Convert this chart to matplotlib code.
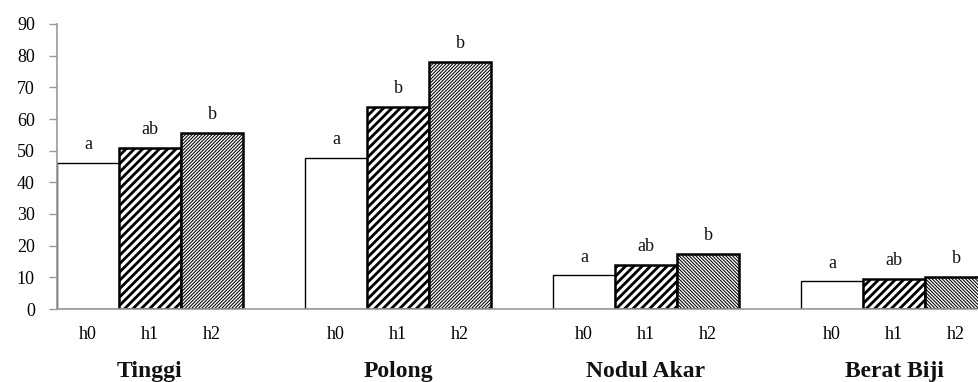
import matplotlib
matplotlib.use("Agg")
import matplotlib.pyplot as plt
import matplotlib.transforms as mtransforms

# ---- data ----
categories = ["Tinggi", "Polong", "Nodul Akar", "Berat Biji"]
treatments = ["h0", "h1", "h2"]
h0_values = [46.0, 47.6, 10.6, 8.7]
h1_values = [50.9, 63.8, 13.9, 9.6]
h2_values = [55.7, 78.0, 17.4, 10.2]
h0_letters = ["a", "a", "a", "a"]
h1_letters = ["ab", "b", "ab", "ab"]
h2_letters = ["b", "b", "b", "b"]
y_ticks = [0, 10, 20, 30, 40, 50, 60, 70, 80, 90]

plt.rcParams['font.family'] = ['Liberation Serif', 'DejaVu Serif']

W, H = 979, 382
fig = plt.figure(figsize=(W / 100, H / 100), dpi=100)
ax = fig.add_axes([57 / W, 73 / H, (W - 57) / W, (309 - 24) / H])

series = [h0_values, h1_values, h2_values]
letters = [h0_letters, h1_letters, h2_letters]
group_w = 4
centers = []
ticklabels = []
for gi in range(len(categories)):
    for j in range(3):
        left = gi * group_w + j
        val = series[j][gi]
        if j == 0:
            hatch, lw = None, 1.0
        elif j == 1:
            hatch, lw = '////', 1.8
        else:
            hatch = '/' * 10 if gi < 2 else '\\' * 10
            lw = 1.8
        b = ax.bar(left, val, width=1.0, align='edge', color='white',
                   edgecolor='black', linewidth=lw, hatch=hatch, zorder=2)[0]
        if hasattr(b, 'set_hatch_linewidth') and hatch:
            b.set_hatch_linewidth(2.0 if j == 1 else 0.75)
        ax.annotate(letters[j][gi], (left + 0.5, val), xytext=(0, 10),
                    textcoords='offset points', ha='center', va='baseline',
                    fontsize=13, color='#111111')
        centers.append(left + 0.5)
        ticklabels.append(treatments[j])

ax.set_xlim(0, (W - 57) / 62)
ax.set_ylim(0, 90)
ax.set_yticks(y_ticks)
ax.tick_params(axis='y', length=6, width=1, color='#999999', pad=10,
               labelsize=13)
ax.set_xticks(centers)
ax.set_xticklabels(ticklabels)
ax.tick_params(axis='x', length=0, pad=12, labelsize=13)
for s in ['top', 'right']:
    ax.spines[s].set_visible(False)
for s in ['left', 'bottom']:
    ax.spines[s].set_color('#999999')
    ax.spines[s].set_linewidth(1.2)
    ax.spines[s].set_zorder(3)
ax.set_facecolor('none')

trans = mtransforms.blended_transform_factory(ax.transData, fig.transFigure)
for gi, cat in enumerate(categories):
    ax.text(gi * group_w + 1.5, 5 / H, cat, transform=trans, ha='center',
            va='baseline', fontsize=17, fontweight='bold', color='#111111')

fig.savefig("out.png", dpi=100)
